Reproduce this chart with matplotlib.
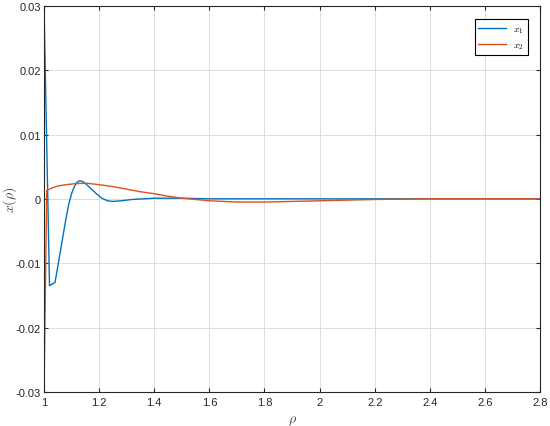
import numpy as np
import matplotlib
matplotlib.use("Agg")
import matplotlib.pyplot as plt

# values
rho_x1 = [1.0, 1.02, 1.04, 1.06, 1.08, 1.09, 1.10, 1.11, 1.12, 1.13, 1.14, 1.15, 1.17, 1.19,
          1.21, 1.23, 1.25, 1.28, 1.32, 1.36, 1.40, 1.50, 1.60, 1.80, 2.0, 2.4, 2.8]
x1 = [0.03, -0.0135, -0.013, -0.008, -0.003, -0.0008, 0.0008, 0.0019, 0.0026, 0.0028, 0.0027,
      0.0024, 0.0016, 0.0008, 0.0001, -0.0003, -0.0004, -0.0003, -0.0001, 0.0, 0.0001, 0.0001,
      0.0, 0.0, 0.0, 0.0, 0.0]

rho_x2 = [1.0, 1.01, 1.03, 1.05, 1.08, 1.10, 1.13, 1.16, 1.20, 1.25, 1.30, 1.35, 1.40, 1.45,
          1.50, 1.55, 1.60, 1.65, 1.70, 1.75, 1.80, 1.90, 2.0, 2.1, 2.2, 2.4, 2.8]
x2 = [-0.03, 0.0013, 0.0017, 0.0020, 0.0022, 0.0023, 0.0024, 0.0024, 0.0022, 0.0019, 0.0015,
      0.0011, 0.0008, 0.0004, 0.0001, -0.0001, -0.0003, -0.0004, -0.0005, -0.0005, -0.0005,
      -0.0004, -0.0003, -0.0002, -0.0001, 0.0, 0.0]

xticks = [1, 1.2, 1.4, 1.6, 1.8, 2, 2.2, 2.4, 2.6, 2.8]
xtick_labels = ["1", "1.2", "1.4", "1.6", "1.8", "2", "2.2", "2.4", "2.6", "2.8"]
yticks = [-0.03, -0.02, -0.01, 0, 0.01, 0.02, 0.03]
ytick_labels = ["-0.03", "-0.02", "-0.01", "0", "0.01", "0.02", "0.03"]

plt.rcParams['font.family'] = ['Liberation Sans', 'DejaVu Sans']
plt.rcParams['mathtext.fontset'] = 'cm'

fig = plt.figure(figsize=(5.5, 4.27), dpi=100)
ax = fig.add_axes([0.08, 0.08, 0.902, 0.904])

ax.plot(rho_x1, x1, color=(0, 0.447, 0.741), linewidth=1.0, label=r'$x_1$')
ax.plot(rho_x2, x2, color=(0.85, 0.325, 0.098), linewidth=1.0, label=r'$x_2$')

ax.set_xlim(1, 2.8)
ax.set_ylim(-0.03, 0.03)
ax.set_xticks(xticks)
ax.set_xticklabels(xtick_labels)
ax.set_yticks(yticks)
ax.set_yticklabels(ytick_labels)
ax.tick_params(direction='in', top=True, right=True, labelsize=8, length=3, colors='#262626')
ax.tick_params(axis='y', pad=2)
ax.grid(True, color='#dddddd', linewidth=0.7)
ax.set_axisbelow(True)
for s in ax.spines.values():
    s.set_color('#262626')
    s.set_linewidth(0.8)

ax.set_xlabel(r'$\rho$', fontsize=10, color='#444444')
ax.set_ylabel(r'$x(\rho)$', fontsize=10, color='#444444')
ax.xaxis.set_label_coords(0.5, -0.055)
ax.yaxis.set_label_coords(-0.05, 0.5)

leg = ax.legend(loc='upper right', fontsize=7, fancybox=False, framealpha=1,
                edgecolor='black', handlelength=2.8, borderpad=0.4,
                bbox_to_anchor=(0.985, 0.978))
leg.get_frame().set_linewidth(0.8)

fig.savefig("out.png", dpi=100)
